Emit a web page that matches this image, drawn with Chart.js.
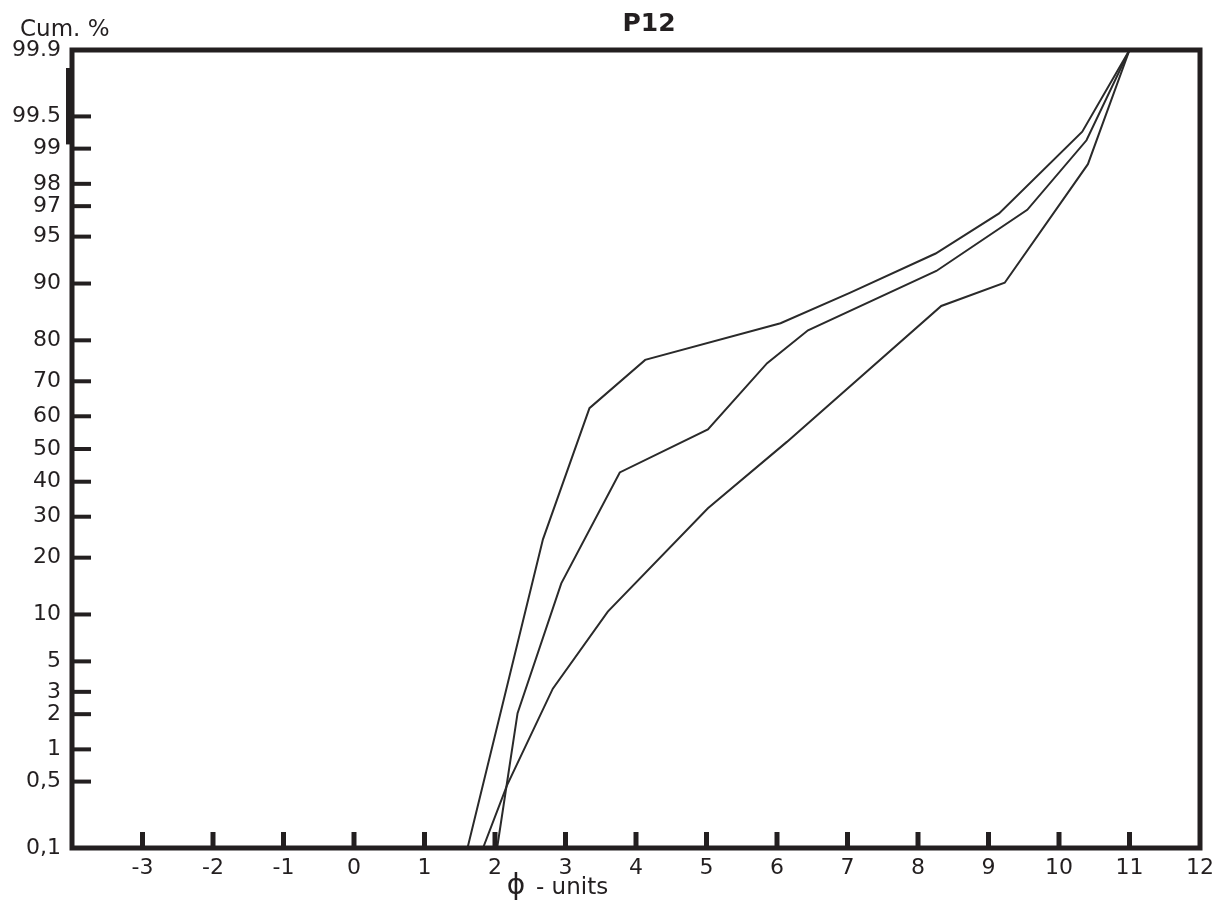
<!DOCTYPE html>
<html>
<head>
<meta charset="utf-8">
<title>P12</title>
<script src="https://cdn.jsdelivr.net/npm/chart.js@4.4.1/dist/chart.umd.min.js"></script>
<style>
  html, body { margin: 0; padding: 0; background: #fff; }
</style>
</head>
<body>
<canvas id="chart" width="1231" height="900"></canvas>
<script>
// x: phi-units, y: cumulative percent (probability paper)
const phiA = [1.61, 2.68, 3.34, 4.13, 6.05, 7.04, 8.25, 9.15, 10.33, 11];
const cumA = [0.1, 24.2, 62.4, 75.5, 83.5, 88.7, 93.5, 96.6, 99.3, 99.9];

const phiB = [2.03, 2.32, 2.94, 3.77, 5.02, 5.86, 6.44, 8.26, 9.55, 10.39, 11];
const cumB = [0.1, 2.04, 14.9, 42.8, 56.0, 74.7, 82.1, 91.6, 96.8, 99.16, 99.9];

const phiC = [1.83, 2.17, 2.82, 3.6, 5.02, 6.14, 8.33, 9.23, 10.41, 11];
const cumC = [0.1, 0.46, 3.17, 10.4, 32.3, 52.2, 86.6, 90.1, 98.63, 99.9];

// axis ticks
const phiTicks = [-3, -2, -1, 0, 1, 2, 3, 4, 5, 6, 7, 8, 9, 10, 11, 12];
const phiTickLabels = ['-3', '-2', '-1', '0', '1', '2', '3', '4', '5', '6', '7', '8', '9', '10', '11', '12'];
const cumTicks = [99.9, 99.5, 99, 98, 97, 95, 90, 80, 70, 60, 50, 40, 30, 20, 10, 5, 3, 2, 1, 0.5, 0.1];
const cumTickLabels = ['99.9', '99.5', '99', '98', '97', '95', '90', '80', '70', '60', '50', '40', '30', '20', '10', '5', '3', '2', '1', '0,5', '0,1'];

const ink = '#231f20';
const font = "'DejaVu Sans', 'Open Sans', sans-serif";

// inverse normal cdf (Acklam), takes percent
function probit(pct) {
    const p = pct / 100;
    const a = [-39.69683028665376, 220.9460984245205, -275.9285104469687, 138.3577518672690, -30.66479806614716, 2.506628277459239];
    const b = [-54.47609879822406, 161.5858368580409, -155.6989798598866, 66.80131188771972, -13.28068155288572];
    const c = [-0.007784894002430293, -0.3223964580411365, -2.400758277161838, -2.549732539343734, 4.374664141464968, 2.938163982698783];
    const d = [0.007784695709041462, 0.3224671290700398, 2.445134137142996, 3.754408661907416];
    const pl = 0.02425;
    let q, r;
    if (p < pl) {
        q = Math.sqrt(-2 * Math.log(p));
        return (((((c[0] * q + c[1]) * q + c[2]) * q + c[3]) * q + c[4]) * q + c[5]) /
            ((((d[0] * q + d[1]) * q + d[2]) * q + d[3]) * q + 1);
    }
    if (p > 1 - pl) {
        q = Math.sqrt(-2 * Math.log(1 - p));
        return -(((((c[0] * q + c[1]) * q + c[2]) * q + c[3]) * q + c[4]) * q + c[5]) /
            ((((d[0] * q + d[1]) * q + d[2]) * q + d[3]) * q + 1);
    }
    q = p - 0.5;
    r = q * q;
    return (((((a[0] * r + a[1]) * r + a[2]) * r + a[3]) * r + a[4]) * r + a[5]) * q /
        (((((b[0] * r + b[1]) * r + b[2]) * r + b[3]) * r + b[4]) * r + 1);
}

function curve(phi, cum) {
    return {
        data: phi.map((x, i) => ({ x: x, y: probit(cum[i]) })),
        showLine: true,
        borderColor: '#2a2a2a',
        borderWidth: 2,
        pointRadius: 0,
        tension: 0,
        fill: false
    };
}

// frame, inward tick marks and loose text
const paperFrame = {
    id: 'paperFrame',
    afterDatasetsDraw(chart) {
        const { ctx, chartArea: a, scales: { x, y } } = chart;
        ctx.save();
        ctx.strokeStyle = ink;
        ctx.fillStyle = ink;
        ctx.lineWidth = 5;
        ctx.strokeRect(a.left, a.top, a.right - a.left, a.bottom - a.top);

        // thicker stretch of the left axis near the top (as printed)
        const t0 = y.getPixelForValue(probit(99.9)) + 18;
        const t1 = y.getPixelForValue(probit(99.5)) + 28;
        ctx.fillRect(a.left - 6, t0, 8, t1 - t0);

        ctx.lineWidth = 4;
        cumTicks.forEach(v => {
            if (v === 99.9) return;
            const py = y.getPixelForValue(probit(v));
            ctx.beginPath();
            ctx.moveTo(a.left, py);
            ctx.lineTo(a.left + 19, py);
            ctx.stroke();
        });

        ctx.lineWidth = 5;
        phiTicks.forEach(v => {
            if (v >= x.max) return;
            const px = x.getPixelForValue(v);
            ctx.beginPath();
            ctx.moveTo(px, a.bottom);
            ctx.lineTo(px, a.bottom - 16);
            ctx.stroke();
        });

        ctx.textBaseline = 'middle';
        ctx.textAlign = 'left';
        ctx.font = '23px ' + font;
        ctx.fillText('Cum. %', 20, 30);

        ctx.textAlign = 'center';
        ctx.font = 'bold 25px ' + font;
        ctx.fillText('P12', 649, 24);

        ctx.textBaseline = 'alphabetic';
        ctx.font = '28px ' + font;
        ctx.fillText('ϕ', 516, 894);
        ctx.textAlign = 'left';
        ctx.font = '23px ' + font;
        ctx.fillText('- units', 536, 894);
        ctx.restore();
    }
};

new Chart(document.getElementById('chart'), {
    type: 'scatter',
    data: {
        datasets: [curve(phiA, cumA), curve(phiB, cumB), curve(phiC, cumC)]
    },
    options: {
        responsive: false,
        animation: false,
        layout: { padding: { top: 50, right: 31, bottom: 0, left: 0 } },
        plugins: {
            legend: { display: false },
            tooltip: { enabled: false }
        },
        scales: {
            x: {
                type: 'linear',
                min: -4,
                max: 12,
                grid: { display: false, drawTicks: false },
                border: { display: false },
                afterBuildTicks: (scale) => {
                    scale.ticks = phiTicks.map(v => ({ value: v }));
                },
                afterFit: (scale) => { scale.height = 52; },
                ticks: {
                    autoSkip: false,
                    maxRotation: 0,
                    padding: 7,
                    color: ink,
                    font: { family: font, size: 22 },
                    callback: (v, i) => phiTickLabels[i]
                }
            },
            y: {
                type: 'linear',
                min: probit(0.1),
                max: probit(99.9),
                grid: { display: false, drawTicks: false },
                border: { display: false },
                afterBuildTicks: (scale) => {
                    scale.ticks = cumTicks.map(v => ({ value: probit(v) }));
                },
                afterFit: (scale) => { scale.width = 72; },
                ticks: {
                    autoSkip: false,
                    padding: 11,
                    color: ink,
                    font: { family: font, size: 22 },
                    callback: (v, i) => cumTickLabels[i]
                }
            }
        }
    },
    plugins: [paperFrame]
});
</script>
</body>
</html>
